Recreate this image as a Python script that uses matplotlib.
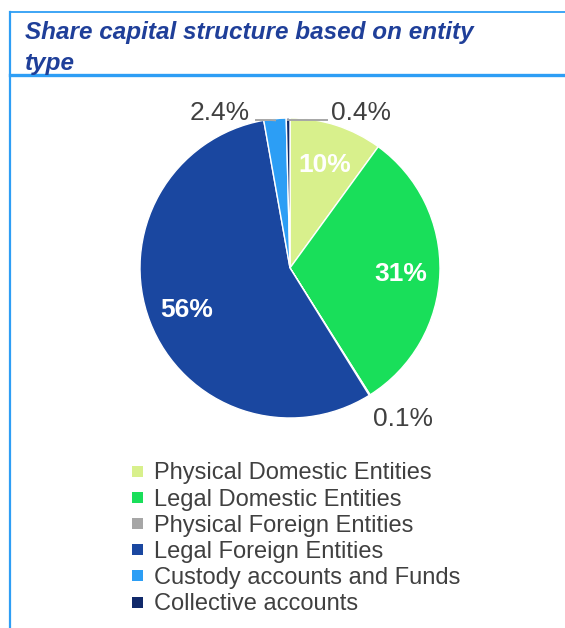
import numpy as np
import matplotlib.pyplot as plt
from matplotlib.lines import Line2D
from matplotlib.patches import Rectangle

plt.rcParams['font.family'] = ['Liberation Sans', 'DejaVu Sans']

categories = ["Physical Domestic Entities", "Legal Domestic Entities",
              "Physical Foreign Entities", "Legal Foreign Entities",
              "Custody accounts and Funds", "Collective accounts"]
shares = [10, 31, 0.1, 56, 2.4, 0.4]
labels = ["10%", "31%", "0.1%", "56%", "2.4%", "0.4%"]
colors = ["#d8f08c", "#19df5a", "#a6a6a6", "#1a47a0", "#2c9ef5", "#10296a"]

W, H = 565, 628
fig = plt.figure(figsize=(W / 100, H / 100), dpi=100)

# frame: thin blue border on top/left, thicker rule under the title
frame_col = "#2e9ef5"
fig.add_artist(Line2D([10 / W, 1], [1 - 12 / H, 1 - 12 / H], color=frame_col, lw=1.3))
fig.add_artist(Line2D([10 / W, 10 / W], [0, 1 - 12 / H], color=frame_col, lw=1.6))
fig.add_artist(Line2D([10 / W, 1], [1 - 75 / H, 1 - 75 / H], color=frame_col, lw=2.4))

title_col = "#1f3f99"
for txt, y in [("Share capital structure based on entity", 30), ("type", 61)]:
    fig.text(25 / W, 1 - y / H, txt, ha="left", va="center_baseline", fontsize=17.5,
             fontweight="bold", style="italic", color=title_col)

# pie: centre (290, 268), radius 150 px
cx, cy, r = 290, 268, 150
ax = fig.add_axes([(cx - r) / W, (H - cy - r) / H, 2 * r / W, 2 * r / H])
wedges, _ = ax.pie(shares, colors=colors, startangle=90, counterclock=False,
                   wedgeprops=dict(edgecolor="white", linewidth=1))
ax.set_xlim(-1, 1)
ax.set_ylim(-1, 1)
ax.set_aspect("equal")
ax.axis("off")

for i, w in enumerate(wedges):
    if shares[i] < 5:
        continue
    mid = np.deg2rad((w.theta1 + w.theta2) / 2)
    ax.text(0.74 * np.cos(mid), 0.74 * np.sin(mid), labels[i], ha="center",
            va="center_baseline", fontsize=19, fontweight="bold", color="white")

def px(x, y):
    return ((x - cx) / r, (cy - y) / r)

lab_col = "#404040"
lead_col = "#a6a6a6"
# 0.1% sits just outside its wedge
ax.text(*px(403, 416), labels[2], ha="center", va="center_baseline", fontsize=19,
        color=lab_col, clip_on=False)

# 2.4%: horizontal leader then a short kink down to the slice
x1, y1 = px(256, 120)
x2, _ = px(271, 120)
w = wedges[4]
mid = np.deg2rad((w.theta1 + w.theta2) / 2)
ax.plot([x1, x2, 0.99 * np.cos(mid)], [y1, y1, 0.99 * np.sin(mid)],
        color=lead_col, lw=1.4, clip_on=False)
ax.text(*px(220, 110), labels[4], ha="center", va="center_baseline", fontsize=19,
        color=lab_col, clip_on=False)

# 0.4%: straight leader from the slice top
w = wedges[5]
mid = np.deg2rad((w.theta1 + w.theta2) / 2)
x1, y1 = px(327, 120)
ax.plot([np.cos(mid), x1], [y1, y1], color=lead_col, lw=1.4, clip_on=False)
ax.text(*px(361, 110), labels[5], ha="center", va="center_baseline", fontsize=19,
        color=lab_col, clip_on=False)

# legend
y0, step = 471, 26.2
for i, (name, c) in enumerate(zip(categories, colors)):
    y = y0 + i * step
    fig.add_artist(Rectangle((132 / W, 1 - (y + 5.5) / H), 11 / W, 11 / H,
                             facecolor=c, edgecolor="none"))
    fig.text(154 / W, 1 - y / H, name, ha="left", va="center_baseline", fontsize=17,
             color=lab_col)

fig.savefig("out.png", dpi=100)
